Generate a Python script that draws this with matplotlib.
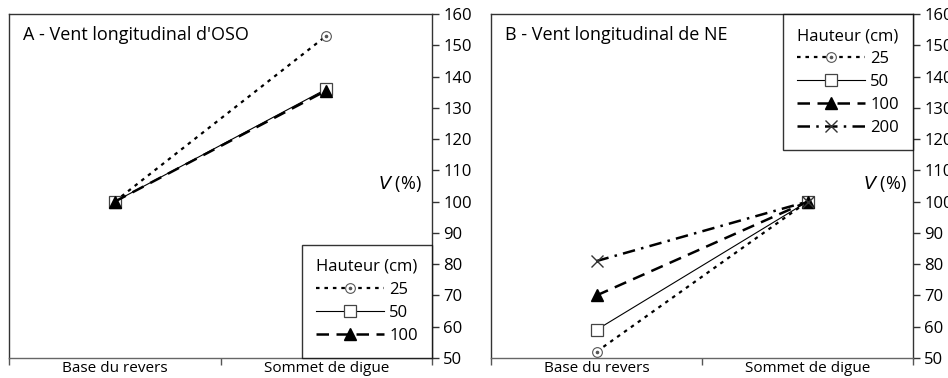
import matplotlib
matplotlib.use('Agg')
import matplotlib.pyplot as plt
from matplotlib.legend_handler import HandlerTuple

plt.rcParams['font.family'] = ['Open Sans', 'DejaVu Sans']

# Categories on the x axis
positions = ['Base du revers', 'Sommet de digue']

# Panel A - Vent longitudinal d'OSO (V in %)
a_heights = ['25', '50', '100']
a_values = {
    '25': [100, 153],
    '50': [100, 136],
    '100': [100, 135.5],
}

# Panel B - Vent longitudinal de NE (V in %)
b_heights = ['25', '50', '100', '200']
b_values = {
    '25': [52, 100],
    '50': [59, 100],
    '100': [70, 100],
    '200': [81, 100],
}

yticks = list(range(50, 161, 10))

# line style per height
styles = {
    '25': dict(color='black', lw=1.6, dashes=(1.6, 2.2), marker='o', ms=7,
               mfc='white', mec='#555555', mew=0.8),
    '50': dict(color='black', lw=0.8, ls='-', marker='s', ms=8, mfc='white',
               mec='#444444', mew=0.9),
    '100': dict(color='black', lw=1.8, dashes=(5, 3), marker='^', ms=9,
                mfc='black', mec='black'),
    '200': dict(color='black', lw=1.8, dashes=(5, 2.5, 1, 2.5), marker='x', ms=9,
                mec='#333333', mew=1.0),
}

fig = plt.figure(figsize=(9.48, 3.78), dpi=100)
ax_a = fig.add_axes([9 / 948, 20 / 378, 423 / 948, 344 / 378])
ax_b = fig.add_axes([491 / 948, 20 / 378, 422 / 948, 344 / 378])


def setup(ax, title, heights, values, legend_loc, vx):
    xs = [0.5, 1.5]
    handles = []
    for h in heights:
        ln, = ax.plot(xs, values[h], **styles[h])
        if h == '25':
            # small dot in the centre of the circle marker
            dot, = ax.plot(xs, values[h], ls='none', marker='o', ms=1.6,
                           mfc='#555555', mec='#555555')
            handles.append((ln, dot))
        else:
            handles.append(ln)
    ax.set_xlim(0, 2)
    ax.set_ylim(50, 160)
    ax.set_yticks(yticks)
    ax.yaxis.tick_right()
    ax.tick_params(axis='y', direction='out', length=5, width=1, colors='#333333',
                   labelsize=12, labelcolor='black', pad=3)
    ax.set_xticks([0, 1, 2])
    ax.set_xticklabels([])
    ax.set_xticks(xs, minor=True)
    ax.set_xticklabels(positions, minor=True)
    ax.tick_params(axis='x', which='major', direction='out', length=5, width=1,
                   colors='#555555')
    ax.tick_params(axis='x', which='minor', length=0, labelsize=11, pad=2)
    for s in ax.spines.values():
        s.set_color('#333333')
        s.set_linewidth(1)
    ax.spines['bottom'].set_color('#666666')
    ax.text(0.033, 0.94, title, transform=ax.transAxes, fontsize=13,
            ha='left', va='center')
    ax.text(vx, 105.5, '$V$ (%)', transform=ax.get_yaxis_transform(),
            fontsize=13, ha='right', va='center')
    leg = ax.legend(handles=handles, labels=heights, loc=legend_loc,
                    title='Hauteur (cm)',
                    handler_map={tuple: HandlerTuple(ndivide=1, pad=0)},
                    fontsize=12, title_fontsize=12, frameon=True, fancybox=False,
                    borderaxespad=0, handlelength=4.1, handletextpad=0.3,
                    labelspacing=0.42, borderpad=0.85, alignment='left')
    leg.get_frame().set_edgecolor('black')
    leg.get_frame().set_linewidth(1)


setup(ax_a, "A - Vent longitudinal d'OSO", a_heights, a_values, 'lower right', 0.975)
setup(ax_b, 'B - Vent longitudinal de NE', b_heights, b_values, 'upper right', 0.985)

fig.savefig('out.png', dpi=100)
